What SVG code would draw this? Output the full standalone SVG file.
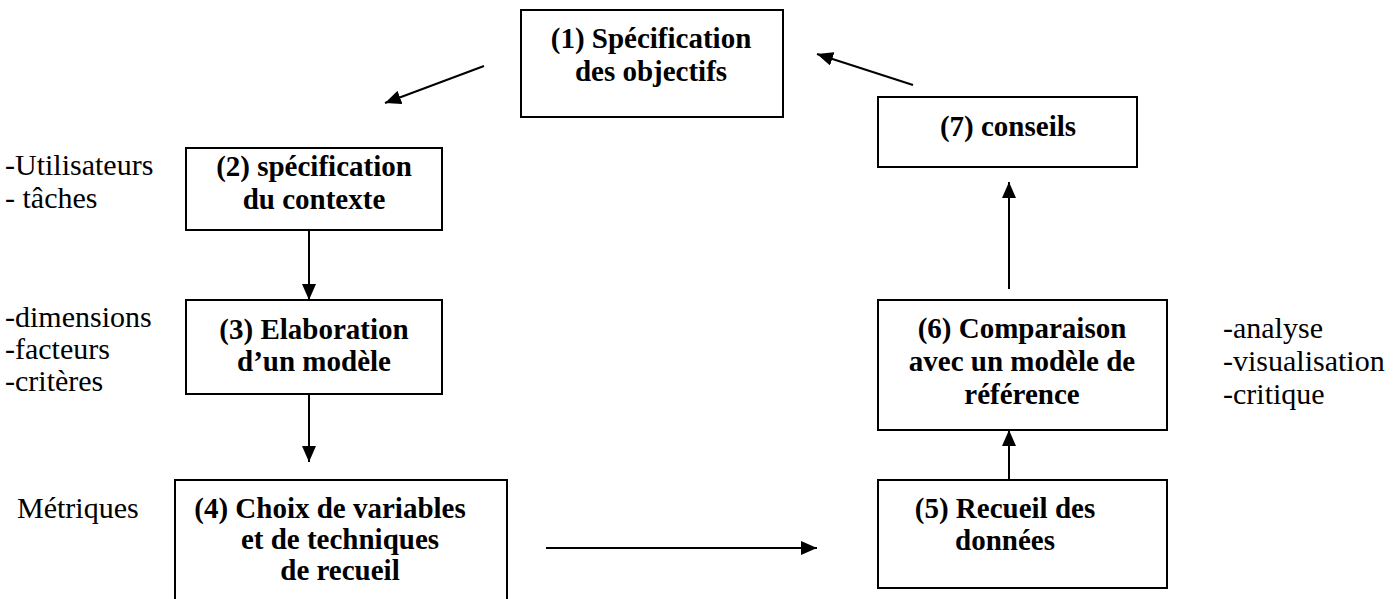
<svg xmlns="http://www.w3.org/2000/svg" width="1393" height="599" viewBox="0 0 1393 599">
  <style>
    .box { fill: #ffffff; stroke: #000000; stroke-width: 2; }
    .t { font-family: "Liberation Serif", "Times New Roman", serif; font-size: 29px; font-weight: bold; fill: #000000; text-anchor: middle; }
    .lbl { font-family: "Liberation Serif", "Times New Roman", serif; font-size: 30px; fill: #000000; }
    .edge { fill: none; stroke: #000000; stroke-width: 2; marker-end: url(#head); }
  </style>
  <defs>
    <marker id="head" markerUnits="userSpaceOnUse" markerWidth="16" markerHeight="14" refX="16" refY="7" orient="auto">
      <path d="M0,0 L16,7 L0,14 z" fill="#000000"/>
    </marker>
  </defs>
  <rect width="1393" height="599" fill="#ffffff"/>

  <!-- side notes -->
  <g id="notes">
    <text class="lbl" x="5" y="175">-Utilisateurs</text>
    <text class="lbl" x="5" y="208">- tâches</text>
    <text class="lbl" x="5" y="327">-dimensions</text>
    <text class="lbl" x="5" y="359">-facteurs</text>
    <text class="lbl" x="5" y="391">-critères</text>
    <text class="lbl" x="17" y="518">Métriques</text>
    <text class="lbl" x="1223" y="338">-analyse</text>
    <text class="lbl" x="1223" y="371">-visualisation</text>
    <text class="lbl" x="1223" y="404">-critique</text>
  </g>

  <g id="n1">
    <rect class="box" x="521" y="10" width="262" height="107"/>
    <text class="t" x="651" y="48">(1) Spécification</text>
    <text class="t" x="651" y="81">des objectifs</text>
  </g>
  <g id="n2">
    <rect class="box" x="186" y="148" width="256" height="82"/>
    <text class="t" x="314" y="176">(2) spécification</text>
    <text class="t" x="314" y="209">du contexte</text>
  </g>
  <g id="n3">
    <rect class="box" x="186" y="300" width="256" height="94"/>
    <text class="t" x="314" y="339">(3) Elaboration</text>
    <text class="t" x="314" y="371">d’un modèle</text>
  </g>
  <g id="n4">
    <rect class="box" x="175" y="480" width="332" height="130"/>
    <text class="t" x="330" y="518">(4) Choix de variables</text>
    <text class="t" x="340" y="549">et de techniques</text>
    <text class="t" x="340" y="580">de recueil</text>
  </g>
  <g id="n5">
    <rect class="box" x="878" y="480" width="289" height="108"/>
    <text class="t" x="1005" y="518">(5) Recueil des</text>
    <text class="t" x="1005" y="550">données</text>
  </g>
  <g id="n6">
    <rect class="box" x="878" y="300" width="289" height="130"/>
    <text class="t" x="1022" y="338">(6) Comparaison</text>
    <text class="t" x="1022" y="371">avec un modèle de</text>
    <text class="t" x="1022" y="404">référence</text>
  </g>
  <g id="n7">
    <rect class="box" x="878" y="97" width="259" height="70"/>
    <text class="t" x="1008" y="136">(7) conseils</text>
  </g>

  <g id="connectors">
    <line class="edge" x1="484" y1="66" x2="385" y2="103"/>
    <line class="edge" x1="309" y1="230" x2="309" y2="300"/>
    <line class="edge" x1="309" y1="394" x2="309" y2="462"/>
    <line class="edge" x1="546" y1="548" x2="817" y2="548"/>
    <line class="edge" x1="1009" y1="480" x2="1009" y2="430"/>
    <line class="edge" x1="1009" y1="289" x2="1009" y2="182"/>
    <line class="edge" x1="913" y1="85" x2="817" y2="54"/>
  </g>
</svg>
